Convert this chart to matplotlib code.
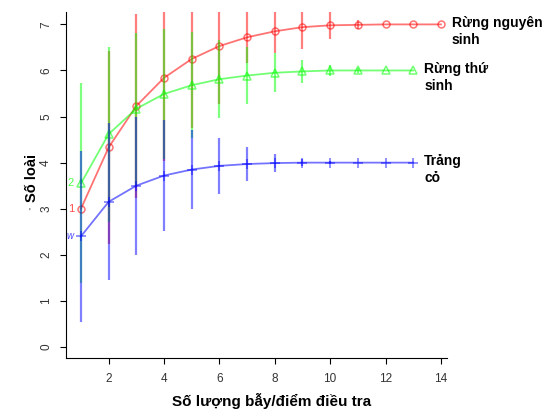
import numpy as np
import matplotlib.pyplot as plt

plt.rcParams['font.family'] = ['Liberation Sans', 'DejaVu Sans']

# Species accumulation data (mean and sd per number of traps/points)
x_prim = np.arange(1, 15)
prim_mean = [3.0, 4.33, 5.23, 5.84, 6.25, 6.53, 6.72, 6.85, 6.94, 6.98, 6.99, 7.0, 7.0, 7.0]
prim_sd = [0, 2.1, 2.0, 1.8, 1.5, 1.25, 0.55, 0.48, 0.48, 0.3, 0.1, 0, 0, 0]

x_sec = np.arange(1, 14)
sec_mean = [3.55, 4.62, 5.17, 5.49, 5.68, 5.81, 5.89, 5.95, 5.98, 6.0, 6.0, 6.0, 6.0]
sec_sd = [2.17, 1.9, 1.65, 1.42, 1.15, 0.85, 0.62, 0.42, 0.25, 0.12, 0.05, 0, 0]

x_grass = np.arange(1, 14)
grass_mean = [2.4, 3.15, 3.5, 3.72, 3.85, 3.93, 3.97, 3.99, 4.0, 4.0, 4.0, 4.0, 4.0]
grass_sd = [1.86, 1.7, 1.5, 1.2, 0.86, 0.6, 0.37, 0.2, 0.08, 0.04, 0, 0, 0]

names = ['Rừng nguyên\nsinh', 'Rừng thứ\nsinh', 'Trảng\ncỏ']
start_labels = ['1', '2', 'w']

fig = plt.figure(figsize=(5.56, 4.12), dpi=100)
ax = fig.add_axes([0.1187, 0.131, 0.6853, 0.84])

series = [
    (x_prim, prim_mean, prim_sd, '#FF0000', 'o', 5, 'normal'),
    (x_sec, sec_mean, sec_sd, '#00FF00', '^', 5.5, 'normal'),
    (x_grass, grass_mean, grass_sd, '#0000FF', '+', 7, 'italic'),
]

for (xs, m, s, col, mk, ms, st), name, lab in zip(series, names, start_labels):
    m = np.array(m)
    s = np.array(s)
    ax.vlines(xs, m - s, m + s, color=col, alpha=0.5, linewidth=1.6)
    ax.plot(xs, m, color=col, alpha=0.55, linewidth=1.3, marker=mk,
            markersize=ms, markerfacecolor='none', markeredgecolor=col,
            markeredgewidth=1.1)
    ax.annotate(name, (xs[-1], m[-1]), xytext=(8, 6), textcoords='offset points',
                ha='left', va='top', fontsize=10, fontweight='bold',
                linespacing=1.25)
    ax.annotate(lab, (xs[0], m[0]), xytext=(-5, 0), textcoords='offset points',
                ha='right', va='center', fontsize=8 if st == 'normal' else 7,
                color=col, alpha=0.7, style=st)

ax.set_xlim(0.46, 14.22)
ax.set_ylim(-0.24, 7.27)
ax.set_xticks(np.arange(2, 15, 2))
ax.set_yticks(np.arange(0, 8, 1))
ax.tick_params(labelsize=8.5, labelcolor='#333333', length=4, width=0.8)
ax.tick_params(axis='x', pad=7)
ax.tick_params(axis='y', pad=6)
for lbl in ax.get_yticklabels():
    lbl.set_rotation(90)
    lbl.set_va('center')
ax.spines['top'].set_visible(False)
ax.spines['right'].set_visible(False)

ax.set_xlabel('Số lượng bẫy/điểm điều tra', fontsize=11, fontweight='bold')
ax.xaxis.set_label_coords(0.54, -0.10)
ax.set_ylabel('Số loài', fontsize=10.5, fontweight='bold')
ax.yaxis.set_label_coords(-0.07, 0.52)
fig.text(0.052, 0.475, "'", fontsize=7, color='#333333')

fig.savefig('out.png', dpi=100)
